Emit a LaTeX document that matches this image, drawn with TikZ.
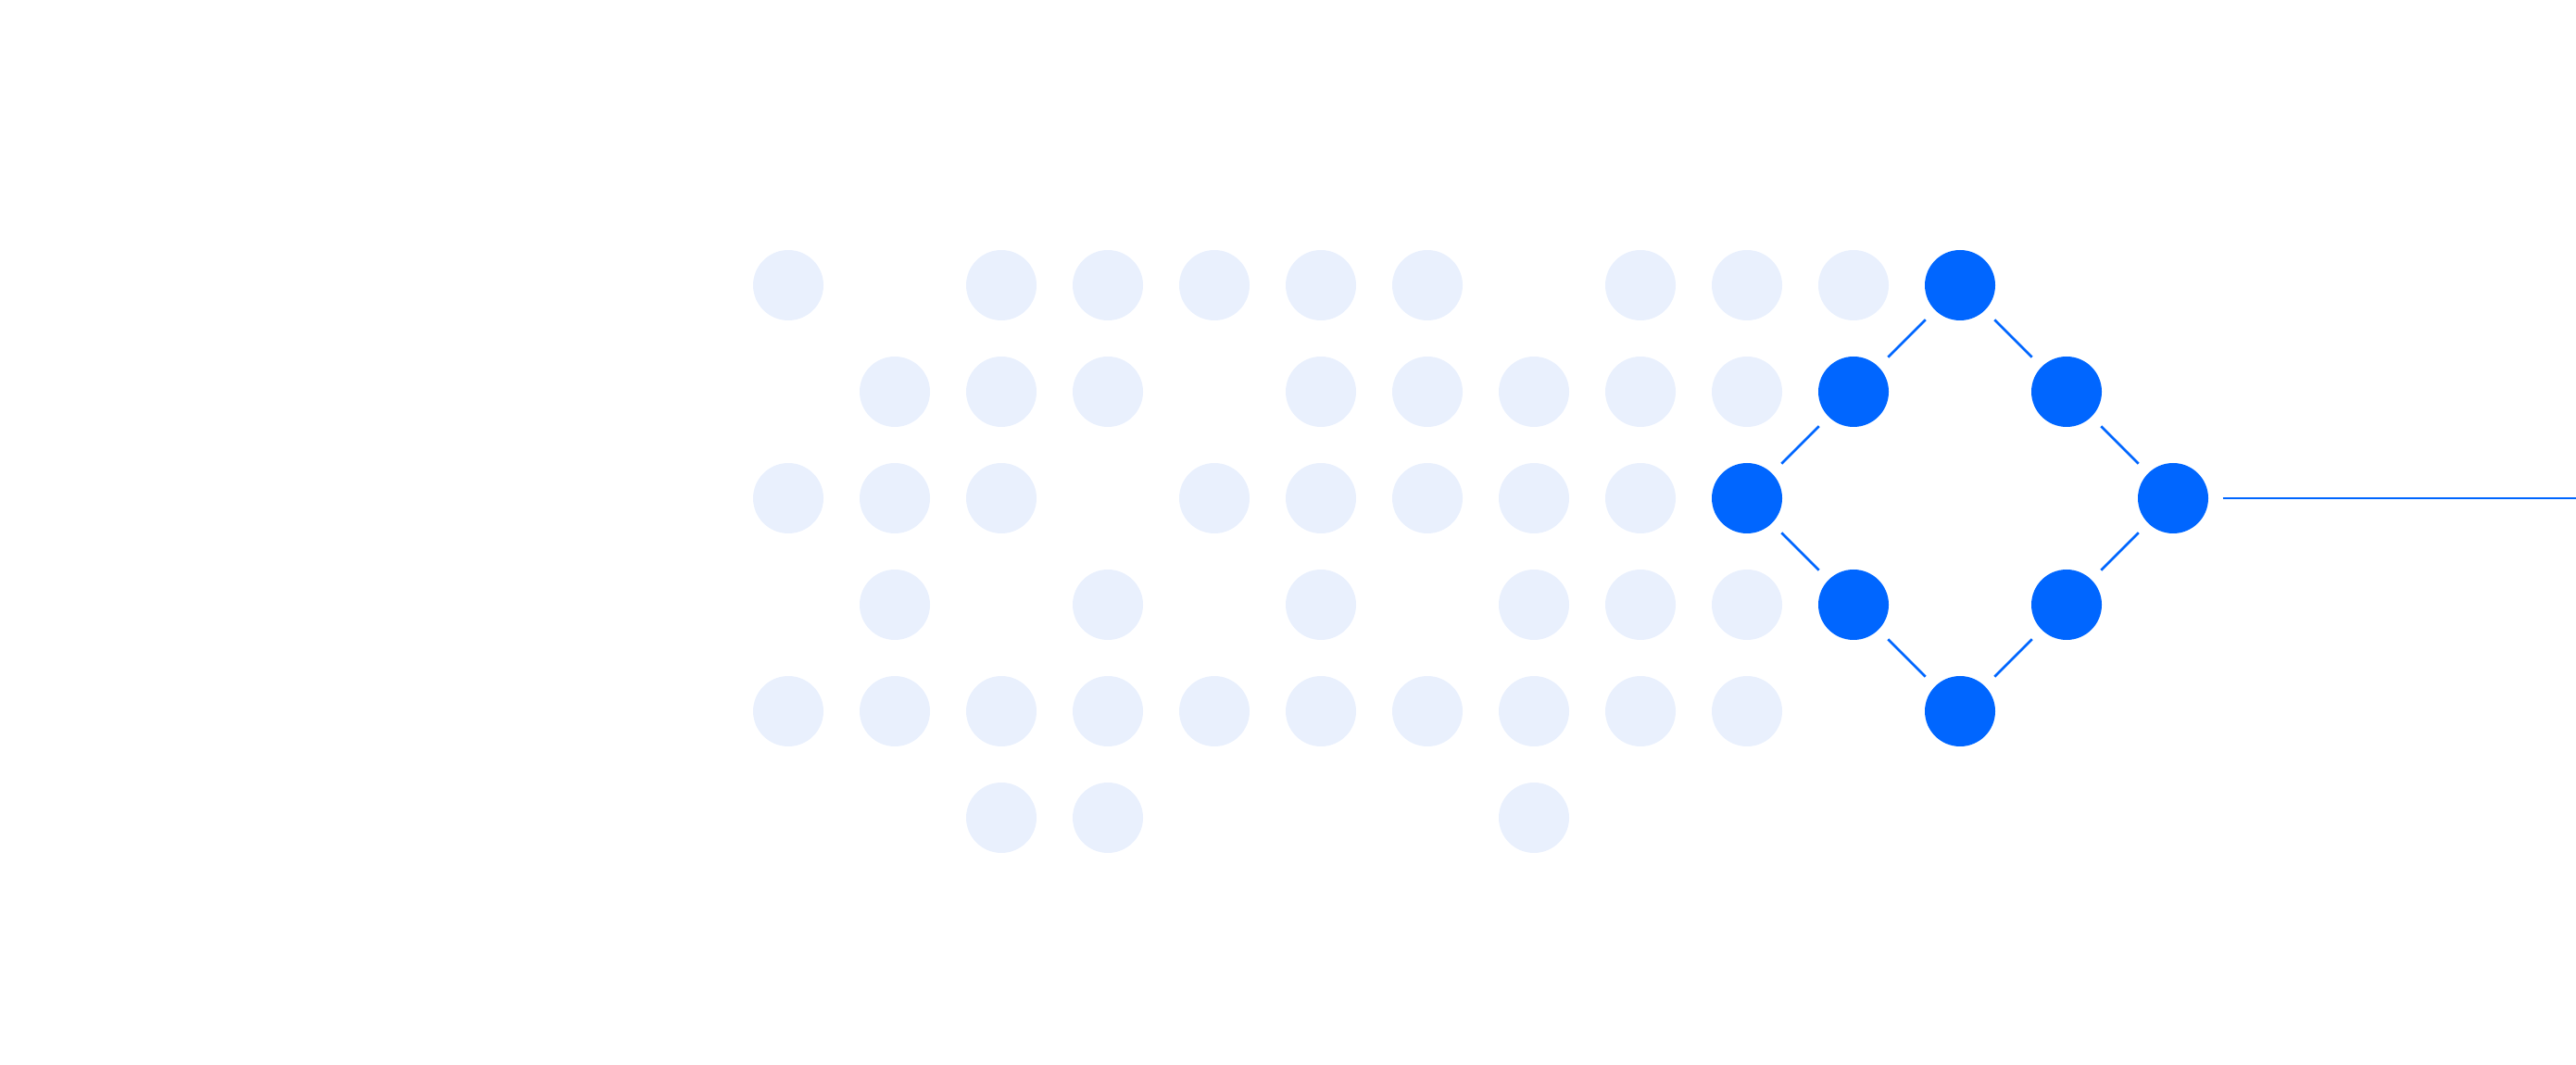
\documentclass[tikz,border=0pt]{standalone}
\definecolor{dotblue}{HTML}{0066FF}
\definecolor{dotpale}{HTML}{E9F0FD}
\tikzset{
  pale/.style={circle, fill=dotpale, minimum size=0.76cm, inner sep=0pt},
  hot/.style={circle, fill=dotblue, minimum size=0.76cm, inner sep=0pt},
  link/.style={draw=dotblue, line width=0.75pt, shorten <=0.14cm, shorten >=0.14cm}
}
\newcommand{\gx}[1]{8.51+1.15*#1}
\newcommand{\gy}[1]{-3.08-1.15*#1}
\begin{document}
\begin{tikzpicture}
\useasboundingbox (0,0) rectangle (27.81,-11.5);
% Pale dots, row by row
\foreach \c in {0,2,3,4,5,6,8,9,10} \node[pale] at ({\gx{\c}},{\gy{0}}) {};
\foreach \c in {1,2,3,5,6,7,8,9} \node[pale] at ({\gx{\c}},{\gy{1}}) {};
\foreach \c in {0,1,2,4,5,6,7,8} \node[pale] at ({\gx{\c}},{\gy{2}}) {};
\foreach \c in {1,3,5,7,8,9} \node[pale] at ({\gx{\c}},{\gy{3}}) {};
\foreach \c in {0,...,9} \node[pale] at ({\gx{\c}},{\gy{4}}) {};
\foreach \c in {2,3,7} \node[pale] at ({\gx{\c}},{\gy{5}}) {};

% Highlighted ring
\node[hot] (top) at ({\gx{11}},{\gy{0}}) {};
\node[hot] (ul) at ({\gx{10}},{\gy{1}}) {};
\node[hot] (ur) at ({\gx{12}},{\gy{1}}) {};
\node[hot] (left) at ({\gx{9}},{\gy{2}}) {};
\node[hot] (right) at ({\gx{13}},{\gy{2}}) {};
\node[hot] (ll) at ({\gx{10}},{\gy{3}}) {};
\node[hot] (lr) at ({\gx{12}},{\gy{3}}) {};
\node[hot] (bottom) at ({\gx{11}},{\gy{4}}) {};
\coordinate (out) at (27.81,{\gy{2}});

% Links
\draw[link] (left) -- (ul);
\draw[link] (ul) -- (top);
\draw[link] (top) -- (ur);
\draw[link] (ur) -- (right);
\draw[link] (left) -- (ll);
\draw[link] (ll) -- (bottom);
\draw[link] (bottom) -- (lr);
\draw[link] (lr) -- (right);
\draw[link, shorten >=0pt, shorten <=0.15cm] (right) -- (out);
\end{tikzpicture}
\end{document}
